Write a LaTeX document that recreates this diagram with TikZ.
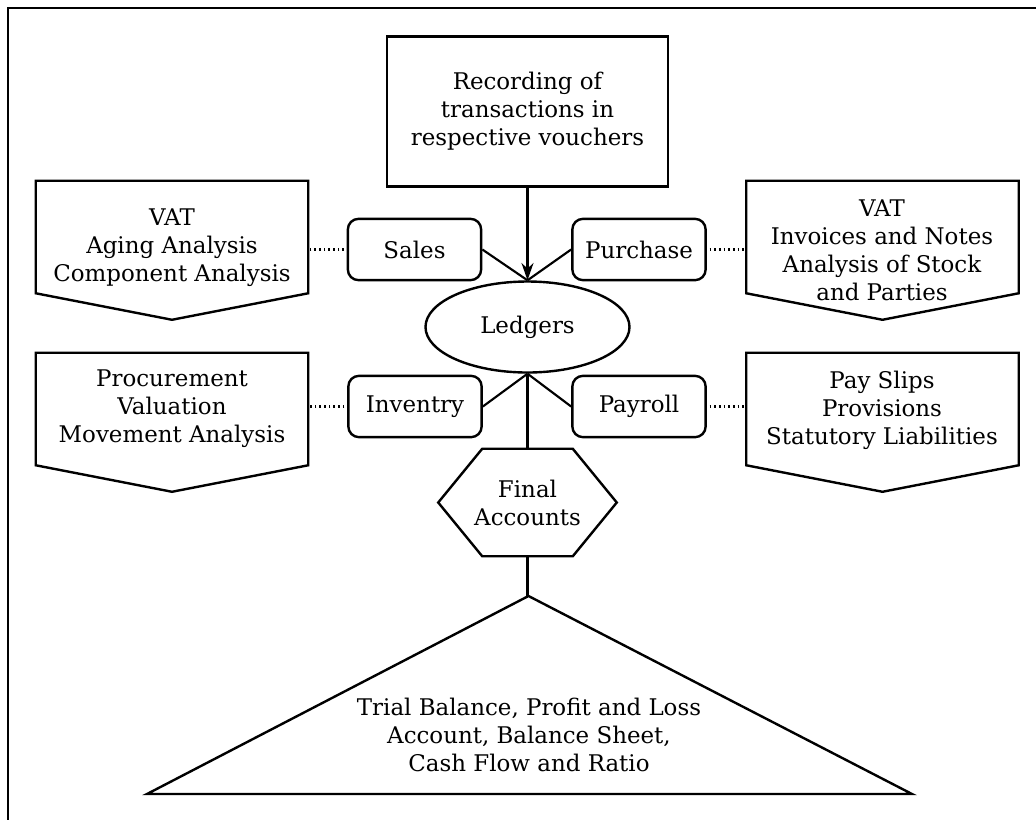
\documentclass[tikz,border=0pt]{standalone}
\usepackage{fontspec}
\setmainfont{DejaVu Serif}
\usetikzlibrary{arrows.meta,calc,shapes.geometric}
\begin{document}
\begin{tikzpicture}[x=0.75pt,y=-0.75pt,
  every node/.style={font=\fontsize{17.2}{21}\selectfont, align=center, inner sep=0pt},
  shp/.style={line width=1.8pt, line join=miter},
  conn/.style={line width=1.6pt},
  dots/.style={line width=1.6pt, dash pattern=on 1.3pt off 2.2pt, shorten <=2pt},
  rbox/.style={draw, shp, rounded corners=8pt, minimum width=100pt, minimum height=46pt},
  pbox/.style={minimum width=204pt, minimum height=84pt}
]
\useasboundingbox (0,0) rectangle (1036,819);
\draw[line width=1.8pt] (8,830) -- (8,8) -- (1045,8);

% top box
\node[draw, shp, minimum width=210.75pt, minimum height=112.5pt] (rec) at (527.5,111.5)
  {Recording of\\transactions in\\respective vouchers};
% ledgers
\node[ellipse, draw, shp, minimum width=153pt, minimum height=68.25pt] (led) at (527.5,327) {Ledgers};
% rounded boxes
\node[rbox] (sal) at (414.5,249.5) {Sales};
\node[rbox] (pur) at (639,249.5) {Purchase};
\node[rbox] (inv) at (415,406.5) {Inventry};
\node[rbox] (pay) at (639,406.5) {Payroll};

% final accounts hexagon
\node[minimum width=133.5pt, minimum height=80.25pt] (fin) at (527.5,502.5) {Final\\Accounts};
\draw[shp] ($(fin.north west)+(44,0)$) -- ($(fin.north east)+(-44,0)$) -- (fin.east)
  -- ($(fin.south east)+(-44,0)$) -- ($(fin.south west)+(44,0)$) -- (fin.west) -- cycle;

% triangle
\coordinate (apex) at (528.5,596);
\coordinate (tbl) at (147,794);
\coordinate (tbr) at (912,794);
\draw[shp] (apex) -- (tbr) -- (tbl) -- cycle;
\node (tri) at (529,735) {Trial Balance, Profit and Loss\\Account, Balance Sheet,\\Cash Flow and Ratio};

% pentagons
\node[pbox] (pb1) at (172,237) {};
\node[pbox] (pb2) at (882.5,237) {};
\node[pbox] (pb3) at (172,409) {};
\node[pbox] (pb4) at (882.5,409) {};
\foreach \p in {pb1,pb2,pb3,pb4}{
  \draw[shp] (\p.north west) -- (\p.north east) -- (\p.south east)
    -- ($(\p.south)+(0,26.5)$) -- (\p.south west) -- cycle;
}
\node (pt1) at (172,248) {VAT\\Aging Analysis\\Component Analysis};
\node (pt2) at (882,250) {VAT\\Invoices and Notes\\Analysis of Stock\\and Parties};
\node (pt3) at (172,409) {Procurement\\Valuation\\Movement Analysis};
\node (pt4) at (882,410) {Pay Slips\\Provisions\\Statutory Liabilities};

% connectors
\draw[conn, -{Stealth[length=13pt, width=9pt]}] (rec.south) -- (led.north);
\draw[conn] (sal.east) -- (led.north);
\draw[conn] (pur.west) -- (led.north);
\draw[conn] (inv.east) -- (led.south);
\draw[conn] (pay.west) -- (led.south);
\draw[conn] (led.south) -- (fin.north);
\draw[conn] (fin.south) -- (fin.south |- apex);

\draw[dots] (sal.west) -- (sal.west -| pb1.east);
\draw[dots] (pur.east) -- (pur.east -| pb2.west);
\draw[dots] (inv.west) -- (inv.west -| pb3.east);
\draw[dots] (pay.east) -- (pay.east -| pb4.west);
\end{tikzpicture}
\end{document}
